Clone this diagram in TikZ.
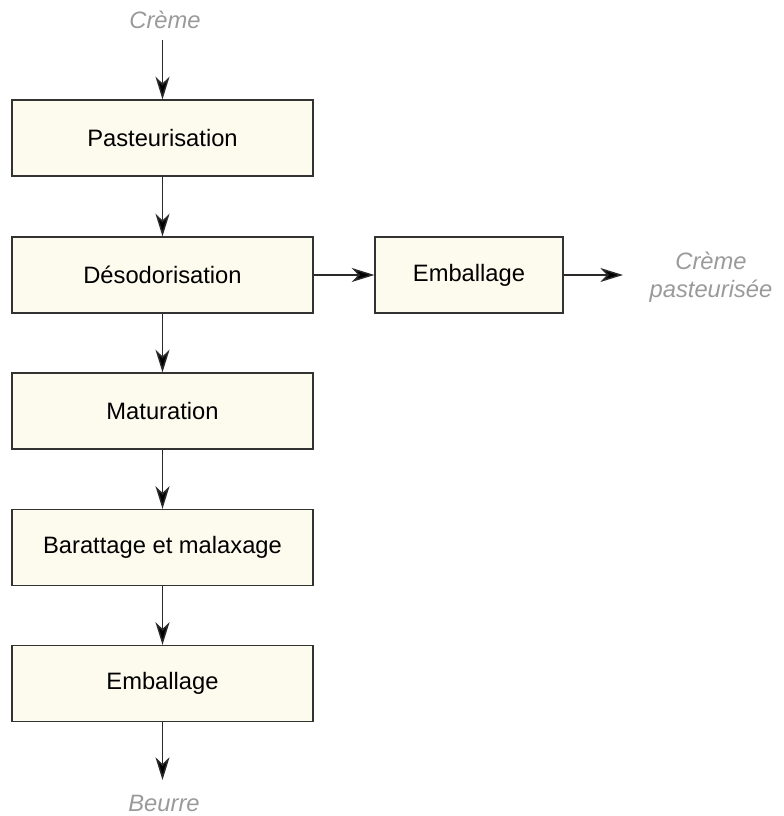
\documentclass[tikz,border=0pt]{standalone}
\usepackage{fontspec}
\setmainfont{Liberation Sans}
\usetikzlibrary{arrows.meta}
\definecolor{boxfill}{HTML}{FDFBEE}
\definecolor{boxline}{HTML}{333333}
\definecolor{arrowline}{HTML}{2A2A2A}
\definecolor{extgray}{HTML}{9A9A9A}
\begin{document}
\begin{tikzpicture}[x=0.75pt,y=-0.75pt,
  stepbox/.style={draw=boxline, fill=boxfill, line width=0.9pt,
    minimum width=225.75pt, minimum height=57pt, inner sep=0pt,
    font=\fontsize{17.8}{21.4}\selectfont},
  flow/.style={draw=arrowline, line width=1.1pt,
    -{Stealth[length=17pt,width=10.5pt,inset=5pt,fill=black]}},
  ext/.style={text=extgray, font=\fontsize{17.8}{21}\selectfont\itshape,
    align=center, inner sep=0pt}]
\useasboundingbox (0,0) rectangle (783,816);

% main line of process steps
\node[stepbox] (past) at (162.5,138) {Pasteurisation};
\node[stepbox] (deso) at (162.5,275) {Désodorisation};
\node[stepbox] (matu) at (162.5,411) {Maturation};
\node[stepbox] (bara) at (162.5,547.5) {Barattage et malaxage};
\node[stepbox] (emb)  at (162.5,683.5) {Emballage};

% side branch
\node[stepbox, minimum width=141pt] (embr) at (469,275) {Emballage};

% inputs and outputs
\node[ext] (creme) at (165,20) {Crème};
\node[ext] (beurre) at (164,803) {Beurre};
\node[ext] (cremep) at (711,277) {Crème\\pasteurisée};

\coordinate (inA) at (162.5,40);
\coordinate (outA) at (162.5,780);
\coordinate (outB) at (623,275);

\draw[flow] (inA) -- (past);
\draw[flow] (past) -- (deso);
\draw[flow] (deso) -- (matu);
\draw[flow] (matu) -- (bara);
\draw[flow] (bara) -- (emb);
\draw[flow] (emb) -- (outA);
\draw[flow] (deso) -- (embr);
\draw[flow] (embr) -- (outB);
\end{tikzpicture}
\end{document}
